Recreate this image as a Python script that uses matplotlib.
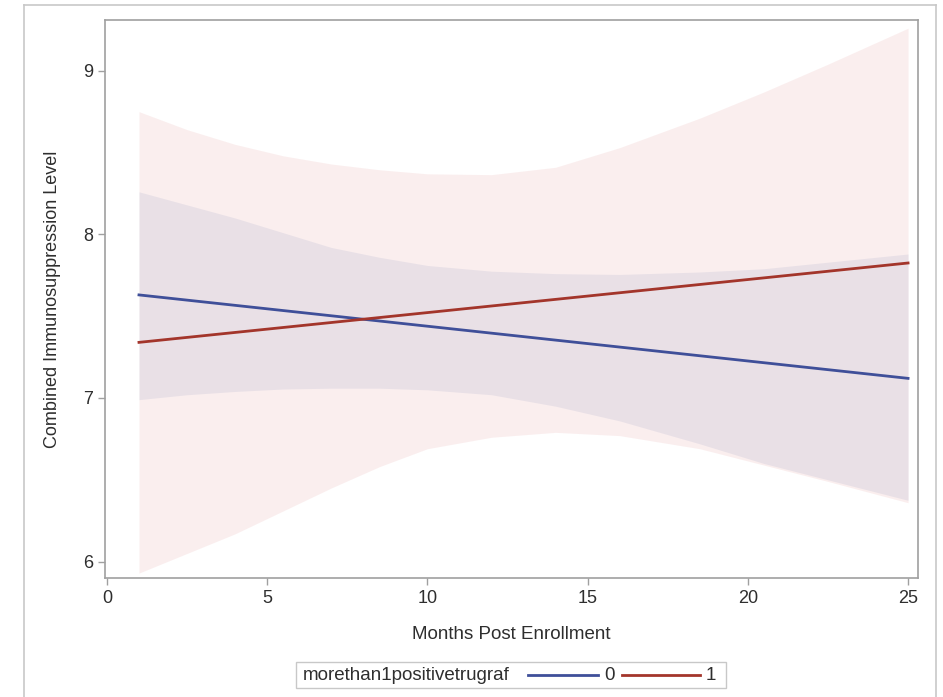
# fitted trajectories with confidence bands, by trugraf group
import numpy as np
import matplotlib.pyplot as plt
from matplotlib.lines import Line2D
from matplotlib.patches import Rectangle

plt.rcParams['font.family'] = ['Liberation Sans', 'DejaVu Sans']

# fitted lines (start / end of follow-up)
line_months = [1, 25]
fit_0 = [7.63, 7.12]
fit_1 = [7.34, 7.825]

# confidence band edges
band_months = [1, 2.5, 4, 5.5, 7, 8.5, 10, 12, 14, 16, 18.5, 20.5, 22.5, 25]
upper_0 = [8.26, 8.18, 8.10, 8.01, 7.92, 7.86, 7.81, 7.775, 7.76, 7.755, 7.77, 7.79, 7.83, 7.88]
lower_0 = [6.99, 7.02, 7.04, 7.055, 7.06, 7.06, 7.05, 7.02, 6.95, 6.86, 6.72, 6.60, 6.50, 6.375]
upper_1 = [8.75, 8.64, 8.55, 8.48, 8.43, 8.395, 8.37, 8.365, 8.41, 8.53, 8.71, 8.87, 9.04, 9.26]
lower_1 = [5.93, 6.05, 6.17, 6.31, 6.45, 6.58, 6.69, 6.76, 6.79, 6.77, 6.69, 6.59, 6.49, 6.36]

xticks = [0, 5, 10, 15, 20, 25]
yticks = [6, 7, 8, 9]

blue = '#3F4F99'
red = '#A3352B'
gray = '#A0A0A0'
txt = '#2E2E2E'

fig = plt.figure(figsize=(9.43, 6.97), dpi=100)
ax = fig.add_axes([105/943, 1 - 578/697, (918 - 105)/943, (578 - 20)/697])

ax.fill_between(band_months, lower_1, upper_1, color='#D8696B', alpha=0.11, lw=0)
ax.fill_between(band_months, lower_0, upper_0, color='#6F7EB3', alpha=0.12, lw=0)
ax.plot(line_months, fit_0, color=blue, lw=2)
ax.plot(line_months, fit_1, color=red, lw=2)

ax.set_xlim(-0.06, 25.31)
ax.set_ylim(5.90, 9.31)
ax.set_xticks(xticks)
ax.set_yticks(yticks)
for s in ax.spines.values():
    s.set_color(gray)
    s.set_linewidth(1.2)
ax.tick_params(colors=gray, labelcolor=txt, labelsize=13, length=5, width=1)
ax.set_xlabel('Months Post Enrollment', fontsize=13.5, color=txt, labelpad=14)
ax.set_ylabel('Combined Immunosuppression Level', fontsize=13, color=txt, labelpad=16)

# outer frame of the graph output
fig.add_artist(Line2D([24/943, 936/943], [1 - 5/697, 1 - 5/697], color='#C8C8C8', lw=1.2))
fig.add_artist(Line2D([24/943, 24/943], [0, 1 - 5/697], color='#C8C8C8', lw=1.2))
fig.add_artist(Line2D([936/943, 936/943], [0, 1 - 5/697], color='#C8C8C8', lw=1.2))

# legend box
def fx(px):
    return px / 943
def fy(py):
    return 1 - py / 697

fig.add_artist(Rectangle((fx(296), fy(688)), fx(726) - fx(296), fy(662) - fy(688),
                         transform=fig.transFigure, fill=False, ec='#C8C8C8', lw=1))
fig.text(fx(303), fy(675), 'morethan1positivetrugraf', fontsize=13.5, color=txt, va='center')
fig.add_artist(Line2D([fx(528), fx(598)], [fy(675), fy(675)], color=blue, lw=2))
fig.text(fx(604), fy(675), '0', fontsize=13.5, color=txt, va='center')
fig.add_artist(Line2D([fx(622), fx(700)], [fy(675), fy(675)], color=red, lw=2))
fig.text(fx(706), fy(675), '1', fontsize=13.5, color=txt, va='center')

fig.savefig('out.png', dpi=100)
